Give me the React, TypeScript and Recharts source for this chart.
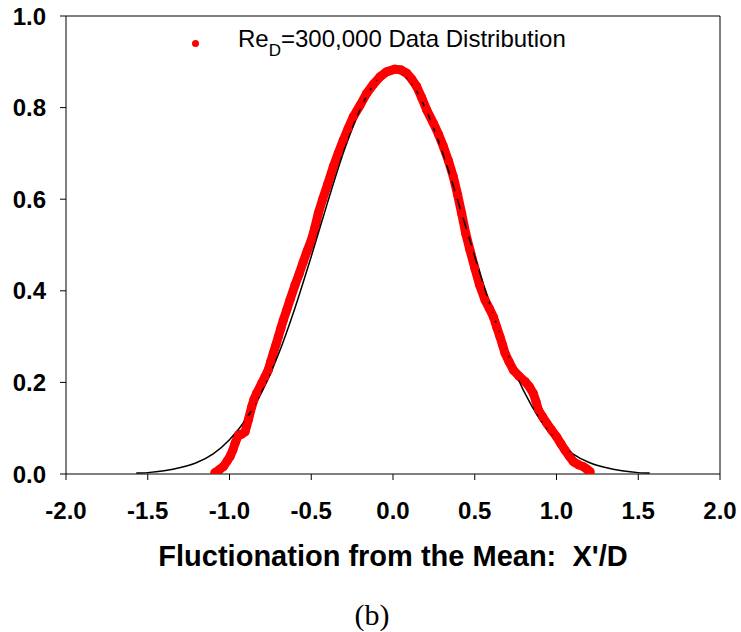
import React from "react";
import { ComposedChart, Line, XAxis, YAxis, ReferenceLine, Label } from "recharts";

const redX = [
  -1.089, -1.06, -1.038, -1.015, -0.997, -0.98, -0.966, -0.946, -0.925, -0.905,
  -0.895, -0.885, -0.864, -0.85, -0.834, -0.803, -0.783, -0.763, -0.748, -0.732,
  -0.716, -0.701, -0.686, -0.671, -0.65, -0.63, -0.6, -0.575, -0.55, -0.525,
  -0.5, -0.478, -0.457, -0.43, -0.4, -0.365, -0.335, -0.304, -0.275, -0.243,
  -0.2, -0.161, -0.12, -0.08, -0.04, 0.012, 0.05, 0.084, 0.115, 0.145,
  0.175, 0.206, 0.247, 0.278, 0.308, 0.34, 0.369, 0.395, 0.42, 0.445,
  0.47, 0.5, 0.53, 0.563, 0.59, 0.614, 0.634, 0.654, 0.67, 0.685,
  0.71, 0.736, 0.77, 0.807, 0.835, 0.858, 0.875, 0.889, 0.915, 0.94,
  0.97, 1.001, 1.027, 1.052, 1.078, 1.103, 1.135, 1.164, 1.185, 1.205,
];
const redY = [
  0.003, 0.01, 0.016, 0.028, 0.038, 0.052, 0.067, 0.085, 0.087, 0.092,
  0.105, 0.118, 0.147, 0.163, 0.176, 0.198, 0.212, 0.227, 0.245, 0.264,
  0.282, 0.3, 0.318, 0.336, 0.358, 0.38, 0.412, 0.436, 0.462, 0.487,
  0.51, 0.538, 0.569, 0.6, 0.632, 0.671, 0.7, 0.729, 0.754, 0.78,
  0.806, 0.831, 0.851, 0.867, 0.878, 0.884, 0.882, 0.875, 0.862, 0.846,
  0.822, 0.795, 0.766, 0.742, 0.715, 0.683, 0.649, 0.61, 0.569, 0.525,
  0.49, 0.45, 0.412, 0.38, 0.361, 0.343, 0.321, 0.3, 0.282, 0.264,
  0.245, 0.227, 0.214, 0.202, 0.19, 0.176, 0.158, 0.14, 0.125, 0.111,
  0.096, 0.081, 0.066, 0.052, 0.039, 0.027, 0.02, 0.016, 0.011, 0.005,
];

// fitted curve (black)
const fitX = [
  -1.57, -1.5, -1.4, -1.3, -1.2, -1.1, -1.0, -0.9, -0.8, -0.7, -0.6, -0.5, -0.4,
  -0.3, -0.2, -0.1, 0, 0.1, 0.2, 0.3, 0.4, 0.5, 0.6, 0.7, 0.8, 0.9, 1.0, 1.1,
  1.2, 1.3, 1.4, 1.5, 1.57,
];
const fitY = [
  0.002, 0.003, 0.007, 0.014, 0.025, 0.044, 0.075, 0.119, 0.181, 0.262, 0.362,
  0.475, 0.593, 0.705, 0.797, 0.859, 0.88, 0.859, 0.797, 0.705, 0.593, 0.475,
  0.362, 0.262, 0.181, 0.119, 0.075, 0.044, 0.025, 0.014, 0.007, 0.003, 0.002,
];

const xTicks = [-2, -1.5, -1, -0.5, 0, 0.5, 1, 1.5, 2];
const yTicks = [0, 0.2, 0.4, 0.6, 0.8, 1];

const redData = redX.map((x, i) => ({ x, y: redY[i] }));
const fitData = fitX.map((x, i) => ({ x, y: fitY[i] }));

const sans = "'Liberation Sans', Arial, sans-serif";
const tickStyle = { fill: "#000", fontSize: 24, fontWeight: "bold", fontFamily: sans };

export default function App() {
  return (
    <div style={{ position: "relative", width: 741, height: 632, background: "#fff" }}>
      <style>{`body{margin:0}`}</style>
      <ComposedChart
        width={741}
        height={632}
        margin={{ top: 16, right: 21, left: 0, bottom: 0 }}
      >
        <XAxis
          type="number"
          dataKey="x"
          domain={[-2, 2]}
          ticks={xTicks}
          tickFormatter={(v) => v.toFixed(1)}
          height={158}
          tickSize={6}
          tickMargin={22}
          axisLine={{ stroke: "#000" }}
          tickLine={{ stroke: "#000" }}
          tick={tickStyle}
          allowDataOverflow
        >
          <Label
            value={"Fluctionation from the Mean:\u00A0 X'/D"}
            position="insideBottom"
            offset={66}
            style={{ fill: "#000", fontSize: 29, fontWeight: "bold", fontFamily: sans }}
          />
        </XAxis>
        <YAxis
          type="number"
          dataKey="y"
          domain={[0, 1]}
          ticks={yTicks}
          tickFormatter={(v) => v.toFixed(1)}
          width={66}
          tickSize={6}
          tickMargin={14}
          axisLine={{ stroke: "#000" }}
          tickLine={{ stroke: "#000" }}
          tick={tickStyle}
          allowDataOverflow
        />
        <ReferenceLine y={1} stroke="#000" />
        <ReferenceLine x={2} stroke="#000" />
        <Line
          data={redData}
          dataKey="y"
          type="linear"
          stroke="#ff0000"
          strokeWidth={9}
          strokeLinejoin="round"
          strokeLinecap="round"
          dot={{ r: 4.5, fill: "#ff0000", stroke: "none" }}
          activeDot={false}
          isAnimationActive={false}
        />
        <Line
          data={fitData}
          dataKey="y"
          type="monotone"
          stroke="#000"
          strokeWidth={1.5}
          dot={false}
          activeDot={false}
          isAnimationActive={false}
        />
      </ComposedChart>

      {/* legend */}
      <div
        style={{
          position: "absolute",
          left: 191.5,
          top: 39.5,
          width: 7,
          height: 7,
          borderRadius: "50%",
          background: "#ff0000",
        }}
      />
      <div
        style={{
          position: "absolute",
          left: 238,
          top: 27,
          fontFamily: sans,
          fontSize: 24,
          lineHeight: "24px",
          whiteSpace: "nowrap",
          color: "#000",
        }}
      >
        Re
        <span style={{ fontSize: 17, position: "relative", top: 9 }}>D</span>
        =300,000 Data Distribution
      </div>

      <div
        style={{
          position: "absolute",
          left: 322,
          width: 100,
          top: 600,
          textAlign: "center",
          fontFamily: "'Liberation Serif', 'Times New Roman', serif",
          fontSize: 30,
          lineHeight: "30px",
          color: "#000",
        }}
      >
        (b)
      </div>
    </div>
  );
}
